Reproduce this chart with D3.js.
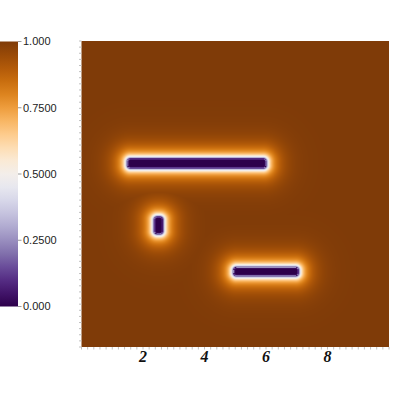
<!DOCTYPE html>
<html><head><meta charset="utf-8">
<script src="https://cdn.jsdelivr.net/npm/d3@7"></script>
<style>html,body{margin:0;padding:0;background:#fff;overflow:hidden}</style>
</head><body>
<script>
// Shapes (data units): x0,x1,y0,y1 of the dark cores
const shapeX0 = [1.50, 2.37, 4.95];
const shapeX1 = [6.00, 2.64, 7.05];
const shapeY0 = [5.85, 3.70, 2.33];
const shapeY1 = [6.15, 4.25, 2.60];
const xTicks = [2, 4, 6, 8];
const cbValues = [1, 0.75, 0.5, 0.25, 0];
const cbLabels = ["1.000", "0.7500", "0.5000", "0.2500", "0.000"];

const W = 410, H = 410;
const svg = d3.select("body").append("svg").attr("width", W).attr("height", H);

const x = d3.scaleLinear().domain([0, 10]).range([81.5, 389]);
const y = d3.scaleLinear().domain([0, 10]).range([347, 41]);
const color = v => d3.interpolatePuOr(v);

function sdf(px, py) {
  let best = Infinity;
  for (let k = 0; k < shapeX0.length; k++) {
    const cx = (shapeX0[k] + shapeX1[k]) / 2, cy = (shapeY0[k] + shapeY1[k]) / 2;
    const hx = (shapeX1[k] - shapeX0[k]) / 2, hy = (shapeY1[k] - shapeY0[k]) / 2;
    const r = Math.min(0.09, hx, hy);
    const qx = Math.abs(px - cx) - (hx - r), qy = Math.abs(py - cy) - (hy - r);
    const d = Math.hypot(Math.max(qx, 0), Math.max(qy, 0)) + Math.min(Math.max(qx, qy), 0) - r;
    if (d < best) best = d;
  }
  return best;
}
function fieldValue(d) {
  if (d <= 0) return Math.max(0, 0.3 * Math.exp(d / 0.02) - 0.02);
  return 1 - 0.5 * Math.exp(-d / 0.06) - 0.5 * Math.exp(-d / 0.3);
}

const canvas = document.createElement("canvas");
const pxW = Math.round(x(10) - x(0)), pxH = Math.round(y(0) - y(10));
canvas.width = pxW; canvas.height = pxH;
const ctx = canvas.getContext("2d");
const img = ctx.createImageData(pxW, pxH);
const xi = d3.scaleLinear().domain([0, pxW]).range([0, 10]);
const yi = d3.scaleLinear().domain([0, pxH]).range([10, 0]);
for (let j = 0; j < pxH; j++) {
  for (let i = 0; i < pxW; i++) {
    const v = fieldValue(sdf(xi(i + 0.5), yi(j + 0.5)));
    const c = d3.rgb(color(v));
    const o = (j * pxW + i) * 4;
    img.data[o] = c.r; img.data[o + 1] = c.g; img.data[o + 2] = c.b; img.data[o + 3] = 255;
  }
}
ctx.putImageData(img, 0, 0);
svg.append("image")
  .attr("x", x(0)).attr("y", y(10))
  .attr("width", x(10) - x(0)).attr("height", y(0) - y(10))
  .attr("preserveAspectRatio", "none")
  .attr("href", canvas.toDataURL());

const minor = d3.range(0, 10.001, 0.2);
svg.append("g").selectAll("line").data(minor).join("line")
  .attr("x1", d => x(d)).attr("x2", d => x(d))
  .attr("y1", y(0)).attr("y2", y(0) + 2.5)
  .attr("stroke", "#c0c0c0").attr("stroke-width", 1);
svg.append("g").selectAll("line").data(minor).join("line")
  .attr("y1", d => y(d)).attr("y2", d => y(d))
  .attr("x1", x(0)).attr("x2", x(0) - 2.5)
  .attr("stroke", "#c0c0c0").attr("stroke-width", 1);

svg.append("g").selectAll("text").data(xTicks).join("text")
  .attr("x", d => x(d)).attr("y", 362)
  .attr("text-anchor", "middle")
  .style("font-family", "'Liberation Serif', serif")
  .style("font-weight", "bold").style("font-style", "italic")
  .style("font-size", "16px").attr("fill", "#111")
  .text(d => d);

const cb = d3.scaleLinear().domain([0, 1]).range([306.5, 41.5]);
const defs = svg.append("defs");
const grad = defs.append("linearGradient").attr("id", "cbg")
  .attr("x1", 0).attr("y1", 1).attr("x2", 0).attr("y2", 0);
d3.range(0, 1.0001, 0.05).forEach(t => grad.append("stop")
  .attr("offset", t).attr("stop-color", color(t)));
svg.append("rect").attr("x", 0).attr("y", cb(1)).attr("width", 18)
  .attr("height", cb(0) - cb(1)).attr("fill", "url(#cbg)");
svg.append("g").selectAll("line").data(cbValues).join("line")
  .attr("x1", 18).attr("x2", 21.5)
  .attr("y1", d => cb(d)).attr("y2", d => cb(d))
  .attr("stroke", "#999");
svg.append("g").selectAll("text").data(cbValues).join("text")
  .attr("x", 23).attr("y", d => cb(d)).attr("dy", "0.35em")
  .style("font-family", "'Liberation Sans', Arial, sans-serif")
  .style("font-size", "11px").attr("fill", "#222")
  .text((d, i) => cbLabels[i]);
</script>
</body></html>
